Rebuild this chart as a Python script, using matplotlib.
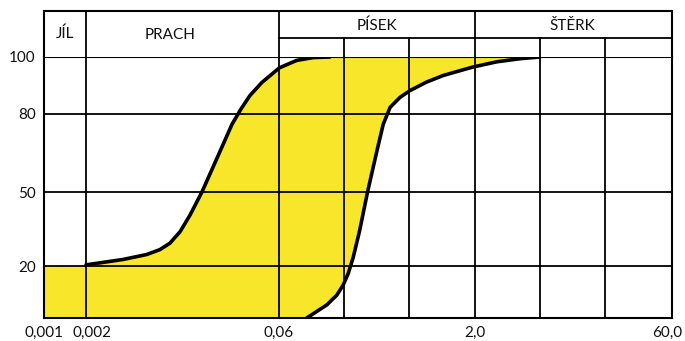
import numpy as np
import matplotlib
matplotlib.use("Agg")
import matplotlib.pyplot as plt
from matplotlib.ticker import NullLocator
from matplotlib.transforms import ScaledTranslation

# grain size limits in mm (grid lines) and x tick labels
size_bounds = [0.001, 0.002, 0.06, 0.2, 0.6, 2.0, 6.0, 20.0, 60.0]
x_ticks = [0.001, 0.002, 0.06, 2.0, 60.0]
x_labels = ["0,001", "0,002", "0,06", "2,0", "60,0"]

# passing percentage ticks
pct_ticks = [0, 20, 50, 80, 100]
y_ticks = [20, 50, 80, 100]
y_labels = ["20", "50", "80", "100"]

# fine edge of the grading band (upper left curve)
fine_size = [0.002, 0.00385, 0.00582, 0.00736, 0.00877, 0.0105, 0.0125, 0.0154,
             0.0212, 0.0262, 0.0305, 0.036, 0.0445, 0.0605, 0.0832, 0.113, 0.154]
fine_pct = [20.5, 22.7, 24.7, 26.7, 29.3, 34.0, 40.7, 50.0,
            65.6, 76.0, 81.5, 86.5, 91.1, 96.2, 98.8, 99.8, 100.0]

# coarse edge of the grading band (lower right curve)
coarse_size = [0.1002, 0.145, 0.175, 0.197, 0.215, 0.234, 0.260, 0.2975,
               0.348, 0.388, 0.436, 0.515, 0.611, 0.828, 1.12, 1.61, 1.94,
               2.88, 4.28, 6.0]
coarse_pct = [0.0, 5.0, 8.8, 12.7, 17.2, 23.7, 34.2, 50.0,
              65.6, 76.0, 82.3, 85.8, 88.2, 91.2, 93.5, 95.5, 96.5,
              98.3, 99.4, 100.0]

classes = ["JÍL", "PRACH", "PÍSEK", "ŠTĚRK"]

# the sheet is hand drawn: spacing of the size lines and of the % lines is uneven
x_pos = np.array([0, 42, 235, 300, 365, 431, 496, 561, 628], dtype=float)
x_log = np.log10(size_bounds)
y_pos = np.array([0, 52, 126, 204.5, 261.5])


def fwd_x(v):
    v = np.clip(np.asarray(v, dtype=float), 1e-6, None)
    return np.interp(np.log10(v), x_log, x_pos)


def inv_x(p):
    return 10 ** np.interp(p, x_pos, x_log)


def fwd_y(v):
    return np.interp(v, pct_ticks, y_pos)


def inv_y(p):
    return np.interp(p, y_pos, pct_ticks)


plt.rcParams['font.family'] = ['Lato', 'DejaVu Sans']

W, H = 685, 341
fig = plt.figure(figsize=(W / 100, H / 100), dpi=100)
fig.patch.set_facecolor("white")

L, R = 44, 672
ax = fig.add_axes([L / W, (H - 318) / H, (R - L) / W, (318 - 57) / H])
ax.set_xscale("function", functions=(fwd_x, inv_x))
ax.set_yscale("function", functions=(fwd_y, inv_y))
ax.set_xlim(size_bounds[0], size_bounds[-1])
ax.set_ylim(0, 100)

lw = 1.3
yellow = "#f7e62a"

# band between the two curves
poly_x = [size_bounds[0], size_bounds[0]] + fine_size + coarse_size[::-1]
poly_y = [0, 20] + fine_pct + coarse_pct[::-1]
ax.fill(poly_x, poly_y, color=yellow, lw=0, zorder=1)

for s in size_bounds[1:-1]:
    ax.axvline(s, color="black", lw=lw, zorder=2)
for p in y_ticks[:-1]:
    ax.axhline(p, color="black", lw=lw, zorder=2)

ax.plot(fine_size, fine_pct, color="black", lw=2.6, solid_capstyle="round",
        solid_joinstyle="round", zorder=3)
ax.plot(coarse_size, coarse_pct, color="black", lw=2.6, solid_capstyle="round",
        solid_joinstyle="round", zorder=3)

for sp in ax.spines.values():
    sp.set_linewidth(1.5)
    sp.set_color("black")

ax.set_xticks(x_ticks)
ax.set_xticklabels(x_labels)
ax.set_yticks(y_ticks)
ax.set_yticklabels(y_labels)
ax.xaxis.set_minor_locator(NullLocator())
ax.yaxis.set_minor_locator(NullLocator())
ax.tick_params(axis="both", length=0, labelsize=11, colors="#111111")
ax.tick_params(axis="x", pad=6)
ax.tick_params(axis="y", pad=6)

# nudge a couple of size labels so they don't crowd / fall off the edge
xl = ax.get_xticklabels()
xl[1].set_transform(xl[1].get_transform() + ScaledTranslation(6 / 100, 0, fig.dpi_scale_trans))
xl[-1].set_transform(xl[-1].get_transform() + ScaledTranslation(-5 / 100, 0, fig.dpi_scale_trans))

# header with the soil classes
hx = fig.add_axes([L / W, (H - 57) / H, (R - L) / W, 46 / H])
hx.set_xscale("function", functions=(fwd_x, inv_x))
hx.set_xlim(size_bounds[0], size_bounds[-1])
hx.set_ylim(0, 1)
hx.xaxis.set_major_locator(NullLocator())
hx.xaxis.set_minor_locator(NullLocator())
hx.set_yticks([])
for sp in hx.spines.values():
    sp.set_linewidth(1.5)
hx.spines["bottom"].set_visible(False)

mid = 19 / 46
for s in [0.002, 0.06, 2.0]:
    hx.axvline(s, color="black", lw=lw)
for s in [0.2, 0.6, 6.0, 20.0]:
    hx.plot([s, s], [0, mid], color="black", lw=lw)
hx.plot([0.06, 60.0], [mid, mid], color="black", lw=lw)

label_x = [np.sqrt(0.001 * 0.002), 0.0088, np.sqrt(0.06 * 2.0), np.sqrt(2.0 * 60.0)]
label_y = [0.5, 0.48, 0.68, 0.68]
for name, lx, ly in zip(classes, label_x, label_y):
    hx.text(lx, ly, name, ha="center", va="center", fontsize=11, color="#111111")

fig.savefig("out.png", dpi=100, facecolor="white")
